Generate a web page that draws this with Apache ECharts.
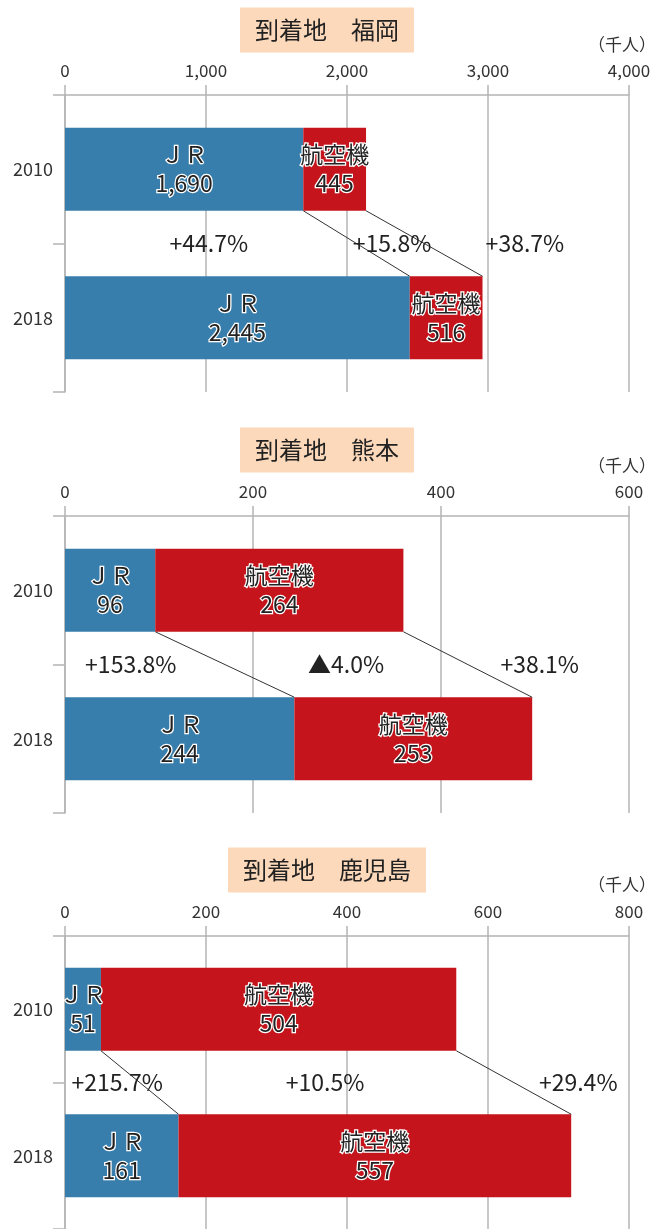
<!DOCTYPE html>
<html><head><meta charset="utf-8">
<script src="https://cdn.jsdelivr.net/npm/echarts@6/dist/echarts.min.js"></script>
<style>html,body{margin:0;padding:0;background:#fff}#c{width:664px;height:1229px}</style>
</head><body><div id="c"></div>
<script>
// ---- data ----
const years = ['2010', '2018'];
const destinations = ['福岡', '熊本', '鹿児島'];
const titlePrefix = '到着地　';
const seriesNames = ['ＪＲ', '航空機'];
const jrValues = [[1690, 2445], [96, 244], [51, 161]];
const airValues = [[445, 516], [264, 253], [504, 557]];
const changeLabels = [
  ['+44.7%', '+15.8%', '+38.7%'],
  ['+153.8%', '▲4.0%', '+38.1%'],
  ['+215.7%', '+10.5%', '+29.4%']
];
const axisMax = [4000, 600, 800];
const axisInterval = [1000, 200, 200];
const unitLabel = '（千人）';

// ---- layout (positions / styles) ----
const FONT = '"Noto Sans CJK JP", "Noto Sans", sans-serif';
const gridTops = [95, 516, 936];
const gridH = 297, gridLeft = 65, gridRight = 35;
const barW = 83;
const titleY = [30, 450, 870];
const unitY = [45, 466, 885];
// annotation x positions in data units (JR, air, total)
const changePos = [[1020, 2320, 3262], [70, 299, 505], [74, 369, 728]];
const BLUE = '#377eac', RED = '#c5141b', GRAY = '#b4b4b4', TXT = '#222';

const fmt = v => v.toLocaleString('en-US');

const grids = [], xAxes = [], yAxes = [], series = [];
destinations.forEach((d, i) => {
  grids.push({ left: gridLeft, right: gridRight, top: gridTops[i], height: gridH });
  xAxes.push({
    type: 'value', gridIndex: i, position: 'top', min: 0, max: axisMax[i], interval: axisInterval[i],
    axisLine: { show: true, lineStyle: { color: GRAY, width: 1.5 } },
    axisTick: { show: true, length: 10, lineStyle: { color: GRAY, width: 1.5 } },
    splitLine: { show: true, lineStyle: { color: GRAY, width: 1.5 } },
    axisLabel: { fontFamily: FONT, fontSize: 17, color: '#333', margin: 16, formatter: v => fmt(v) }
  });
  yAxes.push({
    type: 'category', gridIndex: i, data: years, inverse: true,
    axisLine: { show: true, lineStyle: { color: GRAY, width: 1.5 } },
    axisTick: { show: true, length: 12, lineStyle: { color: GRAY, width: 1.5 } },
    axisLabel: { fontFamily: FONT, fontSize: 18, color: '#333', margin: 12 }
  });
  const lbl = {
    show: true, position: 'inside', fontFamily: FONT, fontSize: 23, lineHeight: 29,
    color: TXT, textBorderColor: '#fff', textBorderWidth: 2.5,
    formatter: p => p.seriesName + '\n' + fmt(p.value)
  };
  series.push({
    type: 'bar', name: seriesNames[0], xAxisIndex: i, yAxisIndex: i, stack: 's' + i,
    barWidth: barW, data: jrValues[i], itemStyle: { color: BLUE }, label: lbl, silent: true
  });
  series.push({
    type: 'bar', name: seriesNames[1], xAxisIndex: i, yAxisIndex: i, stack: 's' + i,
    barWidth: barW, data: airValues[i], itemStyle: { color: RED }, label: lbl, silent: true
  });
});

const chart = echarts.init(document.getElementById('c'), null, { renderer: 'canvas' });
chart.setOption({
  animation: false,
  grid: grids, xAxis: xAxes, yAxis: yAxes, series: series
});

// ---- annotations computed through the axes ----
const graphics = [];
destinations.forEach((d, i) => {
  graphics.push({
    type: 'text', x: 327, y: titleY[i], z: 10,
    style: {
      text: titlePrefix + d, font: '24px ' + FONT, fill: TXT,
      align: 'center', verticalAlign: 'middle',
      backgroundColor: '#fdd9bb', padding: [11, 15, 10, 15]
    }
  });
  graphics.push({
    type: 'text', x: 656, y: unitY[i], z: 10,
    style: { text: unitLabel, font: '17px ' + FONT, fill: '#333', align: 'right', verticalAlign: 'middle' }
  });
  const p0 = chart.convertToPixel({ gridIndex: i }, [0, years[0]]);
  const p1 = chart.convertToPixel({ gridIndex: i }, [0, years[1]]);
  const yBottom0 = p0[1] + barW / 2, yTop1 = p1[1] - barW / 2;
  const midY = (p0[1] + p1[1]) / 2;
  const ends0 = [jrValues[i][0], jrValues[i][0] + airValues[i][0]];
  const ends1 = [jrValues[i][1], jrValues[i][1] + airValues[i][1]];
  for (let k = 0; k < 2; k++) {
    const xa = chart.convertToPixel({ gridIndex: i }, [ends0[k], years[0]])[0];
    const xb = chart.convertToPixel({ gridIndex: i }, [ends1[k], years[1]])[0];
    graphics.push({
      type: 'line', z: 5,
      shape: { x1: xa, y1: yBottom0, x2: xb, y2: yTop1 },
      style: { stroke: '#333', lineWidth: 1 }
    });
  }
  changeLabels[i].forEach((t, k) => {
    const x = chart.convertToPixel({ gridIndex: i }, [changePos[i][k], years[0]])[0];
    graphics.push({
      type: 'text', x: x, y: midY, z: 8,
      style: { text: t, font: '23px ' + FONT, fill: TXT, align: 'center', verticalAlign: 'middle' }
    });
  });
});
chart.setOption({ graphic: graphics });
</script>
</body></html>
